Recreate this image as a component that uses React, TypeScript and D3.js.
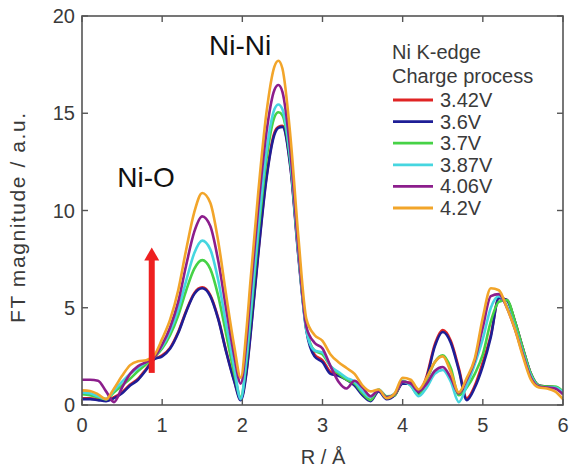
import React from "react";
import * as d3 from "d3";

// ---- data ----
const R_GRID = [0, 0.1, 0.2, 0.3, 0.4, 0.5, 0.6, 0.7, 0.8, 0.9, 1.0, 1.1, 1.2, 1.3, 1.4, 1.5, 1.6, 1.7, 1.8, 1.9, 1.98, 2.05, 2.1, 2.2, 2.3, 2.4, 2.45, 2.5, 2.6, 2.7, 2.8, 2.9, 3.0, 3.1, 3.2, 3.3, 3.4, 3.5, 3.6, 3.7, 3.8, 3.9, 4.0, 4.1, 4.2, 4.3, 4.4, 4.5, 4.6, 4.7, 4.8, 4.9, 5.0, 5.1, 5.2, 5.3, 5.4, 5.5, 5.6, 5.7, 5.8, 5.9, 6.0];

const V_342 = [0.35, 0.35, 0.3, 0.25, 0.4, 0.65, 1.05, 1.35, 1.85, 2.35, 2.55, 2.95, 3.75, 4.85, 5.75, 6.05, 5.65, 4.45, 2.75, 1.25, 0.3, 1.7, 3.6, 7.9, 11.7, 14.0, 14.3, 14.35, 12.3, 7.7, 3.9, 2.6, 2.3, 1.7, 1.55, 1.3, 1.05, 0.55, 0.25, 0.75, 0.35, 0.5, 1.15, 1.15, 0.6, 1.5, 3.1, 3.85, 3.3, 1.9, 0.35, 1.0, 2.2, 3.6, 5.5, 5.4, 4.3, 2.9, 1.6, 1.0, 0.95, 0.9, 0.6];
const V_36 = [0.3, 0.3, 0.25, 0.2, 0.35, 0.6, 1.0, 1.3, 1.8, 2.35, 2.5, 2.9, 3.7, 4.8, 5.7, 6.0, 5.6, 4.4, 2.7, 1.2, 0.25, 1.6, 3.5, 7.8, 11.6, 13.9, 14.25, 14.3, 12.2, 7.6, 3.8, 2.5, 2.2, 1.6, 1.5, 1.3, 1.0, 0.5, 0.2, 0.7, 0.3, 0.5, 1.1, 1.1, 0.55, 1.4, 3.0, 3.75, 3.2, 1.8, 0.25, 0.9, 2.0, 3.5, 5.5, 5.4, 4.3, 2.9, 1.6, 1.0, 0.95, 0.9, 0.6];
const V_37 = [0.55, 0.5, 0.4, 0.3, 0.65, 1.0, 1.35, 1.75, 2.1, 2.45, 2.9, 3.6, 4.6, 5.9, 7.0, 7.45, 7.0, 5.6, 3.6, 1.6, 0.4, 2.2, 4.3, 8.8, 12.6, 14.8, 15.05, 14.9, 12.5, 7.8, 3.9, 2.8, 2.6, 2.0, 1.6, 1.3, 1.1, 0.6, 0.25, 0.8, 0.45, 0.5, 1.25, 1.0, 0.5, 1.3, 2.2, 2.55, 1.9, 0.5, 0.9, 1.6, 2.6, 4.3, 5.3, 5.4, 4.3, 2.9, 1.6, 1.0, 0.95, 0.95, 0.7];
const V_387 = [0.65, 0.6, 0.45, 0.3, 0.75, 1.2, 1.6, 1.9, 2.2, 2.5, 3.0, 3.8, 4.9, 6.4, 7.8, 8.45, 8.0, 6.4, 4.1, 1.9, 0.3, 2.4, 4.6, 9.2, 13.0, 15.2, 15.45, 15.2, 12.6, 7.8, 3.8, 2.8, 2.7, 2.0, 1.7, 1.4, 1.2, 0.7, 0.4, 0.8, 0.4, 0.6, 1.2, 1.0, 0.45, 0.9, 1.6, 1.8, 1.2, 0.15, 1.0, 2.1, 3.4, 5.0, 5.6, 5.1, 4.0, 2.7, 1.5, 0.95, 0.9, 0.9, 0.65];
const V_406 = [1.3, 1.3, 1.25, 0.7, 0.15, 0.9, 1.6, 2.0, 2.2, 2.45, 3.1, 4.0, 5.3, 7.2, 8.9, 9.7, 9.2, 7.4, 4.9, 2.5, 1.1, 3.2, 5.6, 10.2, 14.0, 16.2, 16.45, 16.1, 13.0, 8.0, 4.0, 3.2, 2.9, 2.0, 1.2, 0.85, 1.25, 0.9, 0.45, 0.75, 0.4, 0.55, 1.2, 1.1, 0.7, 1.1, 1.75, 1.95, 1.4, 0.6, 1.3, 2.3, 4.0, 5.6, 5.7, 5.0, 3.9, 2.6, 1.4, 0.95, 0.9, 0.85, 0.55];
const V_42 = [0.75, 0.72, 0.55, 0.3, 0.85, 1.5, 2.05, 2.25, 2.3, 2.55, 3.4, 4.4, 5.9, 8.0, 9.9, 10.9, 10.4, 8.4, 5.6, 3.0, 1.4, 3.8, 6.3, 11.0, 15.0, 17.4, 17.7, 17.3, 13.8, 8.6, 4.4, 3.6, 3.3, 2.6, 2.2, 1.9, 1.6, 1.0, 0.7, 0.8, 0.35, 0.6, 1.4, 1.3, 0.8, 1.4, 2.2, 2.5, 1.7, 0.65, 1.4, 2.4, 4.5, 6.0, 5.9, 5.0, 3.9, 2.5, 1.3, 0.9, 0.85, 0.7, 0.3];

const SERIES_NAMES = ["3.42V", "3.6V", "3.7V", "3.87V", "4.06V", "4.2V"];
const SERIES_VALUES = [V_342, V_36, V_37, V_387, V_406, V_42];

const X_TICKS = [0, 1, 2, 3, 4, 5, 6];
const Y_TICKS = [0, 5, 10, 15, 20];

const LEGEND_TITLE = ["Ni K-edge", "Charge process"];
const ANNOT_NIO = { label: "Ni-O", r: 0.44, v: 11.2 };
const ANNOT_NINI = { label: "Ni-Ni", r: 2.36, v: 18.0 };
const ARROW = { r: 0.87, from: 1.65, to: 8.1 };

// ---- styles ----
const COLORS = ["#e02424", "#1e1e96", "#46d246", "#46d6e0", "#8c1e8c", "#f2a52a"];
const FONT = "'Liberation Sans', Arial, sans-serif";
const TEXT_COLOR = "#3a3a3a";
const AXIS_COLOR = "#555";

export default function App() {
  const W = 570, H = 469;
  const x = d3.scaleLinear().domain([0, 6]).range([82, 563]);
  const y = d3.scaleLinear().domain([0, 20]).range([405, 16]);
  const tick = 6;

  const line = d3
    .line<number>()
    .x((_, i) => x(R_GRID[i]))
    .y((d) => y(d))
    .curve(d3.curveMonotoneX);

  const legendX = 392;
  const legendY0 = 100;
  const legendStep = 21.6;

  return (
    <svg
      width={W}
      height={H}
      style={{ position: "absolute", left: 0, top: 0, background: "#fff" }}
      fontFamily={FONT}
    >
      <rect x={0} y={0} width={W} height={H} fill="#fff" />
      <defs>
        <clipPath id="plot">
          <rect x={x(0)} y={y(20)} width={x(6) - x(0)} height={y(0) - y(20)} />
        </clipPath>
      </defs>

      {/* curves */}
      <g clipPath="url(#plot)">
        {SERIES_VALUES.map((vals, i) => (
          <path
            key={i}
            d={line(vals) || ""}
            fill="none"
            stroke={COLORS[i]}
            strokeWidth={2.6}
            strokeLinejoin="round"
          />
        ))}
      </g>

      {/* frame */}
      <rect
        x={x(0)}
        y={y(20)}
        width={x(6) - x(0)}
        height={y(0) - y(20)}
        fill="none"
        stroke={AXIS_COLOR}
        strokeWidth={1.6}
      />
      {X_TICKS.map((t) => (
        <g key={"xt" + t}>
          <line x1={x(t)} x2={x(t)} y1={y(0)} y2={y(0) - tick} stroke={AXIS_COLOR} strokeWidth={1.4} />
          <line x1={x(t)} x2={x(t)} y1={y(20)} y2={y(20) + tick} stroke={AXIS_COLOR} strokeWidth={1.4} />
          <text x={x(t)} y={y(0) + 27} textAnchor="middle" fontSize={20} fill={TEXT_COLOR}>
            {t}
          </text>
        </g>
      ))}
      {Y_TICKS.map((t) => (
        <g key={"yt" + t}>
          <line x1={x(0)} x2={x(0) + tick} y1={y(t)} y2={y(t)} stroke={AXIS_COLOR} strokeWidth={1.4} />
          <line x1={x(6)} x2={x(6) - tick} y1={y(t)} y2={y(t)} stroke={AXIS_COLOR} strokeWidth={1.4} />
          <text x={75} y={y(t) + 7} textAnchor="end" fontSize={20} fill={TEXT_COLOR}>
            {t}
          </text>
        </g>
      ))}

      {/* axis titles */}
      <text x={323} y={464} textAnchor="middle" fontSize={20} fill={TEXT_COLOR}>
        R / Å
      </text>
      <text
        transform={`translate(25, 218) rotate(-90)`}
        textAnchor="middle"
        fontSize={21}
        textLength={210}
        lengthAdjust="spacing"
        fill={TEXT_COLOR}
      >
        FT magnitude / a.u.
      </text>

      {/* annotations */}
      <text x={x(ANNOT_NIO.r)} y={y(ANNOT_NIO.v)} fontSize={28} fill="#111">
        {ANNOT_NIO.label}
      </text>
      <text x={x(ANNOT_NINI.r)} y={y(ANNOT_NINI.v)} fontSize={28} fill="#111" textAnchor="end">
        {ANNOT_NINI.label}
      </text>

      {/* red arrow */}
      <line
        x1={x(ARROW.r)}
        x2={x(ARROW.r)}
        y1={y(ARROW.from)}
        y2={y(ARROW.to) + 12}
        stroke="#ee2020"
        strokeWidth={6}
      />
      <path
        d={`M${x(ARROW.r) - 7.5},${y(ARROW.to) + 13} L${x(ARROW.r) + 7.5},${y(ARROW.to) + 13} L${x(ARROW.r)},${y(ARROW.to)} Z`}
        fill="#ee2020"
      />

      {/* legend */}
      <text x={legendX} y={59} fontSize={20} fill={TEXT_COLOR}>
        {LEGEND_TITLE[0]}
      </text>
      <text x={legendX} y={83} fontSize={20} fill={TEXT_COLOR}>
        {LEGEND_TITLE[1]}
      </text>
      {SERIES_NAMES.map((name, i) => (
        <g key={name}>
          <line
            x1={legendX + 1}
            x2={legendX + 41}
            y1={legendY0 + i * legendStep}
            y2={legendY0 + i * legendStep}
            stroke={COLORS[i]}
            strokeWidth={2.8}
          />
          <text x={legendX + 48} y={legendY0 + i * legendStep + 7} fontSize={20} fill={TEXT_COLOR}>
            {name}
          </text>
        </g>
      ))}
    </svg>
  );
}
